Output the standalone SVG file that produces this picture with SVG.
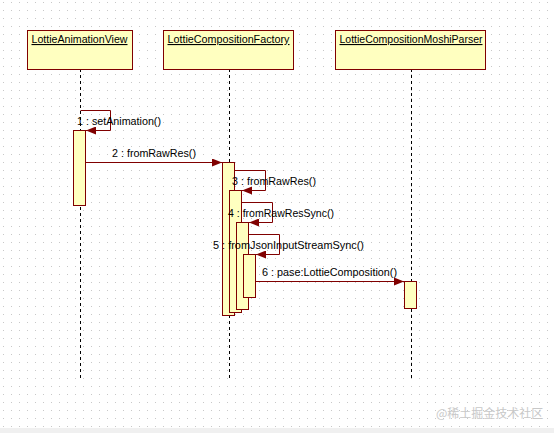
<svg xmlns="http://www.w3.org/2000/svg" width="554" height="433" viewBox="0 0 554 433">
<defs>
<pattern id="dots" x="3" y="2" width="8" height="8" patternUnits="userSpaceOnUse">
<rect x="0" y="0" width="1" height="1" fill="#c8c8c8"/>
</pattern>
<marker id="ah" markerWidth="10" markerHeight="8" refX="10" refY="4" orient="auto" markerUnits="userSpaceOnUse">
<path d="M0,0 L10,4 L0,8 Z" fill="#800000"/>
</marker>
<style>
.box{fill:#ffffc0;stroke:#800000;stroke-width:1}
.act{fill:#ffffc0;stroke:#800000;stroke-width:1}
.life{stroke:#000;stroke-width:1;stroke-dasharray:3,3;fill:none}
.msg{stroke:#800000;stroke-width:1;fill:none;marker-end:url(#ah)}
.t{font-family:"Liberation Sans",Arial,sans-serif;font-size:11px;fill:#000}
.u{text-decoration:underline}
.wm{font-family:"Noto Sans CJK SC",sans-serif;font-size:12px;fill:#c8c8c8}
</style>
</defs>
<rect width="554" height="433" fill="#ffffff"/>
<rect width="554" height="428" fill="url(#dots)"/>
<rect x="0" y="428" width="554" height="5" fill="#f0f0f0"/>

<g id="lifelines">
<line class="life" x1="80.5" y1="69" x2="80.5" y2="378"/>
<line class="life" x1="229.5" y1="69" x2="229.5" y2="378"/>
<line class="life" x1="411.5" y1="69" x2="411.5" y2="378"/>
</g>

<g id="node-view">
<rect class="box" x="27.5" y="30.5" width="105" height="39"/>
<text class="t u" x="31.5" y="43" textLength="96" lengthAdjust="spacingAndGlyphs">LottieAnimationView</text>
</g>
<g id="node-factory">
<rect class="box" x="163.5" y="30.5" width="130" height="39"/>
<text class="t u" x="167.5" y="43" textLength="122" lengthAdjust="spacingAndGlyphs">LottieCompositionFactory</text>
</g>
<g id="node-parser">
<rect class="box" x="335.5" y="30.5" width="150" height="39"/>
<text class="t u" x="339.5" y="43" textLength="143" lengthAdjust="spacingAndGlyphs">LottieCompositionMoshiParser</text>
</g>

<g id="activations">
<rect class="act" x="73.5" y="130.5" width="12" height="75"/>
<rect class="act" x="222.5" y="162.5" width="12" height="153"/>
<rect class="act" x="229.5" y="190.5" width="12" height="122"/>
<rect class="act" x="236.5" y="222.5" width="12" height="87"/>
<rect class="act" x="243.5" y="254.5" width="12" height="43"/>
<rect class="act" x="404.5" y="281.5" width="12" height="27"/>
</g>

<g id="connectors">
<polyline class="msg" points="80.5,110.5 110.5,110.5 110.5,130.5 86,130.5"/>
<line class="msg" x1="86" y1="162.5" x2="222" y2="162.5"/>
<polyline class="msg" points="235,170.5 265.5,170.5 265.5,190.5 242,190.5"/>
<polyline class="msg" points="242,202.5 272.5,202.5 272.5,222.5 249,222.5"/>
<polyline class="msg" points="249,234.5 279.5,234.5 279.5,254.5 256,254.5"/>
<line class="msg" x1="256" y1="281.5" x2="404" y2="281.5"/>
</g>

<g id="labels">
<text class="t" x="77" y="125" textLength="84" lengthAdjust="spacingAndGlyphs">1 : setAnimation()</text>
<text class="t" x="112" y="157" textLength="84" lengthAdjust="spacingAndGlyphs">2 : fromRawRes()</text>
<text class="t" x="232" y="185" textLength="84" lengthAdjust="spacingAndGlyphs">3 : fromRawRes()</text>
<text class="t" x="228" y="217" textLength="106" lengthAdjust="spacingAndGlyphs">4 : fromRawResSync()</text>
<text class="t" x="213" y="249" textLength="151" lengthAdjust="spacingAndGlyphs">5 : fromJsonInputStreamSync()</text>
<text class="t" x="262" y="276" textLength="135" lengthAdjust="spacingAndGlyphs">6 : pase:LottieComposition()</text>
</g>

<text class="wm" x="436" y="418">@稀土掘金技术社区</text>
</svg>
